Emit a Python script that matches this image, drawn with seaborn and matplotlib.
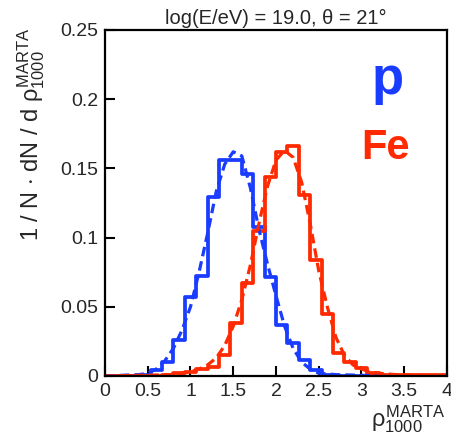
import numpy as np
import pandas as pd
import matplotlib
matplotlib.use("Agg")
import matplotlib.pyplot as plt
import seaborn as sns

# ---- data ----
bin_edges = [round(k * 4 / 30, 6) for k in range(31)]
proton_hist = [0, 0, 0, 0.001, 0.004, 0.010, 0.026, 0.057, 0.072, 0.129,
               0.156, 0.156, 0.146, 0.108, 0.0715, 0.037, 0.0235, 0.0115, 0.004, 0.001,
               0, 0, 0, 0, 0, 0, 0, 0, 0, 0]
iron_hist = [0, 0, 0, 0, 0, 0.001, 0.002, 0.003, 0.005, 0.0066,
             0.015, 0.038, 0.067, 0.105, 0.144, 0.162, 0.166, 0.131, 0.084, 0.045,
             0.0168, 0.0103, 0.0055, 0.0023, 0.001, 0.0005, 0.0005, 0.0005, 0.0005, 0.0005]

proton_fit_x = [0.0, 0.4, 0.5, 0.6, 0.7, 0.8, 0.9, 1.0, 1.1, 1.2, 1.3, 1.4, 1.5,
                1.6, 1.7, 1.8, 1.9, 2.0, 2.1, 2.2, 2.3, 2.4, 2.5, 2.7, 3.3]
proton_fit_y = [0.0, 0.001, 0.002, 0.005, 0.011, 0.020, 0.033, 0.050, 0.075, 0.103, 0.133, 0.153, 0.162,
                0.159, 0.136, 0.106, 0.081, 0.058, 0.036, 0.020, 0.010, 0.005, 0.002, 0.001, 0.0]
iron_fit_x = [0.0, 0.8, 0.9, 1.0, 1.1, 1.2, 1.3, 1.4, 1.5, 1.6, 1.7, 1.8, 1.9, 2.0, 2.1,
              2.2, 2.3, 2.4, 2.5, 2.6, 2.7, 2.8, 2.9, 3.0, 3.1, 3.2, 3.4, 4.0]
iron_fit_y = [0.0, 0.001, 0.002, 0.003, 0.005, 0.008, 0.013, 0.022, 0.036, 0.055, 0.080, 0.110, 0.137, 0.156, 0.163,
              0.158, 0.140, 0.110, 0.076, 0.050, 0.028, 0.015, 0.008, 0.005, 0.003, 0.002, 0.001, 0.0]

x_ticks = [0, 0.5, 1, 1.5, 2, 2.5, 3, 3.5, 4]
x_tick_labels = ["0", "0.5", "1", "1.5", "2", "2.5", "3", "3.5", "4"]
y_ticks = [0, 0.05, 0.1, 0.15, 0.2, 0.25]
y_tick_labels = ["0", "0.05", "0.1", "0.15", "0.2", "0.25"]

BLUE = "#1a3cff"
RED = "#ff2a00"

sns.set_theme(style="white")
plt.rcParams["font.family"] = ["Liberation Sans", "DejaVu Sans"]
plt.rcParams["mathtext.fontset"] = "custom"
plt.rcParams["mathtext.rm"] = "Liberation Sans"
plt.rcParams["mathtext.it"] = "Liberation Sans"
plt.rcParams["mathtext.bf"] = "Liberation Sans:bold"

fig = plt.figure(figsize=(4.52, 4.46), dpi=100)
ax = fig.add_axes([105 / 452, 1 - 376 / 446, 342 / 452, 346 / 446])

centers = [(bin_edges[i] + bin_edges[i + 1]) / 2 for i in range(30)]
df_p = pd.DataFrame({"x": centers, "w": proton_hist})
df_fe = pd.DataFrame({"x": centers, "w": iron_hist})

sns.histplot(data=df_p, x="x", weights="w", bins=bin_edges, element="step",
             fill=False, color=BLUE, linewidth=2.7, ax=ax)
sns.histplot(data=df_fe, x="x", weights="w", bins=bin_edges, element="step",
             fill=False, color=RED, linewidth=2.7, ax=ax)

sns.lineplot(x=proton_fit_x, y=proton_fit_y, color=BLUE, linewidth=2.3,
             linestyle=(0, (3, 1.6)), ax=ax)
sns.lineplot(x=iron_fit_x, y=iron_fit_y, color=RED, linewidth=2.3,
             linestyle=(0, (3, 1.6)), ax=ax)

ax.set_xlim(0, 4)
ax.set_ylim(0, 0.25)
ax.set_xticks(x_ticks)
ax.set_xticklabels(x_tick_labels, fontsize=14)
ax.set_yticks(y_ticks)
ax.set_yticklabels(y_tick_labels, fontsize=14)
ax.tick_params(direction="in", length=7, width=1.5, color="black",
               top=False, right=False, bottom=True, left=True, pad=5)
for s in ax.spines.values():
    s.set_color("black")
    s.set_linewidth(1.6)
ax.grid(False)

ax.set_title("log(E/eV) = 19.0, θ = 21°", fontsize=14.5, pad=4)

ax.set_xlabel(r"$\rho_{1000}^{\mathrm{MARTA}}$", fontsize=17, loc="right")
ax.xaxis.set_label_coords(0.995, -0.08)
ax.xaxis.label.set_verticalalignment("top")
ax.set_ylabel(r"1 / N $\cdot$ dN / d $\rho_{1000}^{\mathrm{MARTA}}$", fontsize=17)
ax.yaxis.set_label_coords(-0.17, 0.70)

ax.text(0.825, 0.855, "p", transform=ax.transAxes, color=BLUE, fontsize=38,
        fontweight="bold", ha="center", va="center")
ax.text(0.82, 0.66, "Fe", transform=ax.transAxes, color=RED, fontsize=30,
        fontweight="bold", ha="center", va="center")

fig.savefig("out.png", dpi=100)
